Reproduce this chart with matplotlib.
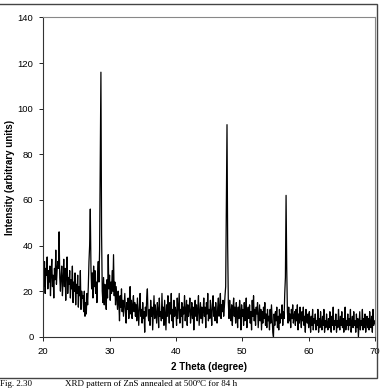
import numpy as np
import matplotlib
matplotlib.use("Agg")
import matplotlib.pyplot as plt
from matplotlib.patches import Rectangle

# XRD scan of ZnS annealed at 500 C at 0.1 degree steps
two_theta = np.round(np.arange(200, 701) * 0.1, 1)
intensity = [
    36, 22, 33, 19, 30, 27, 35, 21, 29, 24,   # 20
    31, 18, 28, 34, 22, 27, 17, 30, 25, 38,   # 21
    23, 29, 33, 30, 46, 26, 20, 27, 31, 18,   # 22
    25, 34, 22, 30, 16, 28, 35, 19, 26, 23,   # 23
    29, 17, 25, 21, 31, 15, 24, 20, 28, 14,   # 24
    23, 19, 27, 13, 22, 18, 29, 12, 20, 17,   # 25
    18, 11, 20, 9, 15, 10, 19, 14, 22, 33,    # 26
    40, 56, 30, 21, 28, 17, 31, 22, 29, 19,   # 27
    24, 15, 28, 33, 24, 38, 80, 116, 45, 20,  # 28
    15, 26, 14, 23, 19, 12, 25, 17, 36, 21,   # 29
    27, 16, 24, 19, 29, 20, 36, 18, 24, 14,   # 30
    22, 17, 12, 20, 15, 7, 18, 13, 21, 11,    # 31
    16, 9, 14, 19, 11, 6, 15, 12, 17, 8,      # 32
    13, 22, 10, 16, 8, 14, 18, 11, 15, 9,     # 33
    14, 7, 17, 11, 5, 13, 19, 9, 12, 6,       # 34
    15, 8, 11, 2, 13, 9, 17, 21, 10, 7,       # 35
    12, 5, 16, 9, 13, 3, 11, 18, 8, 14,       # 36
    10, 6, 15, 12, 4, 17, 9, 11, 7, 19,       # 37
    8, 13, 5, 16, 10, 3, 14, 9, 18, 11,       # 38
    6, 15, 10, 19, 7, 12, 4, 16, 9, 13,       # 39
    11, 5, 17, 8, 14, 19, 6, 12, 9, 15,       # 40
    4, 13, 10, 18, 7, 11, 16, 5, 14, 9,       # 41
    12, 17, 6, 10, 15, 8, 13, 3, 11, 16,      # 42
    9, 14, 7, 12, 18, 5, 10, 15, 8, 13,       # 43
    6, 11, 17, 9, 13, 4, 15, 10, 19, 7,       # 44
    12, 8, 16, 11, 5, 14, 18, 9, 13, 7,       # 45
    15, 10, 6, 13, 17, 9, 12, 19, 8, 14,      # 46
    11, 16, 9, 13, 18, 22, 60, 93, 40, 15,    # 47
    8, 16, 11, 7, 14, 5, 12, 17, 9, 13,       # 48
    6, 15, 10, 4, 13, 8, 16, 11, 3, 14,       # 49
    9, 12, 5, 15, 7, 11, 17, 4, 10, 13,       # 50
    8, 14, 6, 11, 3, 16, 9, 18, 7, 12,        # 51
    5, 13, 10, 15, 4, 9, 14, 7, 12, 3,        # 52
    11, 6, 13, 8, 15, 5, 10, 4, 12, 7,        # 53
    9, 3, 12, 6, 14, 8, 2, 0, 10, 5,          # 54
    11, 7, 13, 4, 9, 3, 12, 6, 10, 8,         # 55
    14, 5, 11, 8, 19, 26, 62, 30, 11, 6,      # 56
    13, 7, 10, 4, 12, 8, 14, 6, 9, 11,        # 57
    5, 12, 7, 14, 3, 10, 6, 13, 8, 4,         # 58
    11, 7, 13, 5, 9, 2, 12, 8, 6, 10,         # 59
    4, 11, 7, 2, 9, 5, 12, 3, 8, 6,           # 60
    10, 3, 7, 5, 12, 2, 8, 4, 11, 6,          # 61
    3, 9, 5, 12, 2, 7, 4, 10, 6, 3,           # 62
    8, 4, 11, 6, 2, 9, 5, 13, 3, 7,           # 63
    5, 10, 2, 7, 4, 12, 6, 3, 9, 5,           # 64
    11, 4, 8, 2, 6, 13, 3, 7, 5, 10,          # 65
    3, 8, 5, 12, 2, 6, 9, 4, 11, 5,           # 66
    7, 2, 10, 4, 8, 0, 6, 11, 3, 7,           # 67
    5, 12, 3, 8, 4, 10, 2, 6, 9, 4,           # 68
    8, 3, 11, 6, 4, 9, 2, 12, 5, 7,           # 69
    6,                                         # 70
]
x_ticks = [20, 30, 40, 50, 60, 70]
y_ticks = [0, 20, 40, 60, 80, 100, 120, 140]

plt.rcParams["font.family"] = ["Liberation Sans", "DejaVu Sans"]

fig = plt.figure(figsize=(3.89, 3.88), dpi=100)
ax = fig.add_axes([0.111, 0.132, 0.853, 0.823])

ax.plot(two_theta, intensity, color="black", lw=0.9)

ax.set_xlim(20, 70)
ax.set_ylim(0, 140)
ax.set_xticks(x_ticks)
ax.set_yticks(y_ticks)
ax.tick_params(labelsize=6.8, length=3, width=0.6, direction="out", pad=4)
ax.set_xlabel("2 Theta (degree)", fontsize=7, fontweight="bold", labelpad=5)
ax.set_ylabel("Intensity (arbitrary units)", fontsize=7, fontweight="bold", labelpad=2)
for s in ["top", "right"]:
    ax.spines[s].set_color("#888888")
    ax.spines[s].set_linewidth(0.8)
for s in ["left", "bottom"]:
    ax.spines[s].set_color("#333333")
    ax.spines[s].set_linewidth(0.8)

# outer chart border and caption below it
fig.patches.append(Rectangle((-0.01, 1 - 378 / 388), 377 / 389 + 0.01, 374 / 388,
                             transform=fig.transFigure, fill=False,
                             edgecolor="#444444", lw=1.0))
fig.text(0.0, 1 - 379.5 / 388, "Fig. 2.30", fontsize=6.5, va="top",
         family=["Liberation Serif", "DejaVu Serif"])
fig.text(0.167, 1 - 379.5 / 388, "XRD pattern of ZnS annealed at 500ºC for 84 h",
         fontsize=6.5, va="top", family=["Liberation Serif", "DejaVu Serif"])

fig.savefig("out.png", dpi=100, facecolor="white")
